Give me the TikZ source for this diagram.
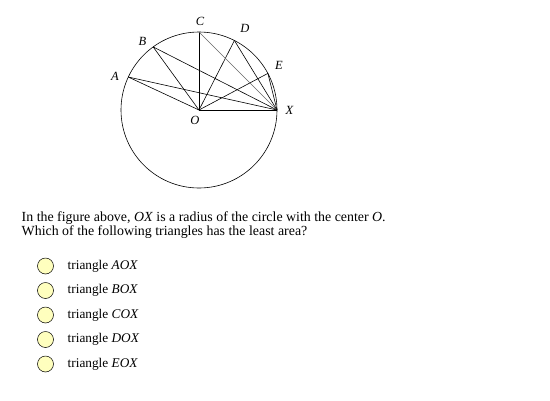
\documentclass[tikz,border=0pt]{standalone}
\usepackage{fontspec}
\setmainfont{Liberation Serif}
\begin{document}
\begin{tikzpicture}[x=1pt,y=-1pt,
  seg/.style={line width=0.6pt},
  lbl/.style={font=\fontsize{12.5}{14}\selectfont\itshape, inner sep=0pt},
  opt/.style={circle, draw, line width=0.5pt, fill={rgb,255:red,255;green,255;blue,190}, minimum size=16pt, inner sep=0pt},
  qtext/.style={anchor=base west, font=\fontsize{13.9}{16}\selectfont, inner sep=0pt},
  opttext/.style={anchor=west, font=\fontsize{13.3}{15}\selectfont, inner sep=0pt}]
\useasboundingbox (0,0) rectangle (550,400);
\coordinate (O) at (199,110);
\draw[line width=0.6pt] (O) circle (78);
\path (O) ++(0:78) coordinate (X)
      (O) ++(-155:78) coordinate (A)
      (O) ++(-126:78) coordinate (B)
      (O) ++(-90:78) coordinate (C)
      (O) ++(-63:78) coordinate (D)
      (O) ++(-28:78) coordinate (E);
% segments
\draw[seg, line width=0.9pt] (O) -- (X);
\foreach \p in {A,B,C,D,E} {\draw[seg] (O) -- (\p);}
\draw[seg] (A) -- (X);
\draw[seg] (B) -- (X);
\draw[seg, black!60] (C) -- (X);
\draw[seg] (D) -- (X);
\draw[seg] (E) -- (X);
% labels
\node[lbl] (lA) at (115,76.5) {A};
\node[lbl] (lB) at (142.5,41.5) {B};
\node[lbl] (lC) at (200,21.5) {C};
\node[lbl] (lD) at (245,28.5) {D};
\node[lbl] (lE) at (279,65) {E};
\node[lbl] (lO) at (195,120) {O};
\node[lbl] (lX) at (289.5,110) {X};
% question
\node[qtext] (q1) at (21.5,221) {In the figure above, \textit{OX} is a radius of the circle with the center \textit{O}.};
\node[qtext] (q2) at (21.5,235) {Which of the following triangles has the least area?};
% options
\node[opt] (c1) at (45.5,266) {};
\node[opt] (c2) at (45.5,290.5) {};
\node[opt] (c3) at (45.5,315) {};
\node[opt] (c4) at (45.5,339.5) {};
\node[opt] (c5) at (45.5,364) {};
\node[opttext] (t1) at (67.5,266) {triangle \textit{AOX}};
\node[opttext] (t2) at (67.5,290.5) {triangle \textit{BOX}};
\node[opttext] (t3) at (67.5,315) {triangle \textit{COX}};
\node[opttext] (t4) at (67.5,339.5) {triangle \textit{DOX}};
\node[opttext] (t5) at (67.5,364) {triangle \textit{EOX}};
\end{tikzpicture}
\end{document}
